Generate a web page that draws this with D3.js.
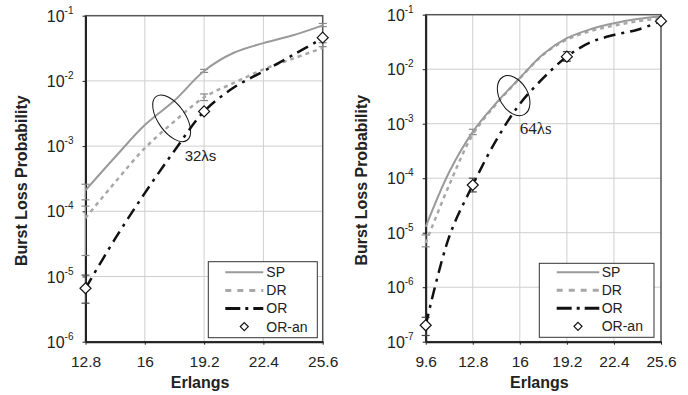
<!DOCTYPE html>
<html>
<head>
<meta charset="utf-8">
<script src="https://cdn.jsdelivr.net/npm/d3@7"></script>
<style>
  body { margin: 0; background: #fff; }
  svg { display: block; font-family: 'Liberation Sans', Arial, sans-serif; }
</style>
</head>
<body>
<svg id="chart" width="688" height="395"></svg>
<script>
const seriesNames = ['SP', 'DR', 'OR', 'OR-an'];

// 32 wavelengths (left panel)
const loads32 = [12.8, 14.4, 16, 17.6, 19.2, 20.8, 22.4, 24, 25.6];
const sp32 = [2.1e-4, 6.8e-4, 2.1e-3, 5.0e-3, 1.42e-2, 2.7e-2, 3.8e-2, 5.0e-2, 7.1e-2];
const dr32 = [7.9e-5, 2.8e-4, 9.3e-4, 2.4e-3, 5.6e-3, 9.3e-3, 1.5e-2, 2.2e-2, 3.2e-2];
const or32 = [6.6e-6, 3.8e-5, 1.9e-4, 8.5e-4, 3.4e-3, 7.9e-3, 1.4e-2, 2.5e-2, 4.5e-2];
const orAnLoads32 = [12.8, 19.2, 25.6];
const orAn32 = [6.6e-6, 3.4e-3, 4.6e-2];
// error bars: [load, low, high]
const spErr32 = [[12.8, 1.5e-4, 2.6e-4], [19.2, 1.35e-2, 1.5e-2], [25.6, 6.8e-2, 7.6e-2]];
const drErr32 = [[12.8, 2.1e-5, 1.2e-4], [19.2, 5.0e-3, 6.3e-3], [25.6, 3.35e-2, 3.85e-2]];
const orErr32 = [[12.8, 3.9e-6, 1.05e-5]];
const xTicks32 = [12.8, 16, 19.2, 22.4, 25.6];
const yExps32 = [-6, -5, -4, -3, -2, -1];

// 64 wavelengths (right panel)
const loads64 = [9.6, 11.2, 12.8, 14.4, 16, 17.6, 19.2, 20.8, 22.4, 24, 25.6];
const sp64 = [1.28e-5, 1.3e-4, 7.1e-4, 2.4e-3, 6.9e-3, 1.9e-2, 3.7e-2, 5.4e-2, 6.95e-2, 8.3e-2, 9.4e-2];
const dr64 = [6.5e-6, 7.5e-5, 6.3e-4, 2.3e-3, 6.8e-3, 1.85e-2, 3.5e-2, 5.0e-2, 6.3e-2, 7.6e-2, 8.6e-2];
const or64 = [2.0e-7, 8.5e-6, 7.5e-5, 5.0e-4, 2.3e-3, 6.9e-3, 1.7e-2, 3.1e-2, 4.25e-2, 5.3e-2, 7.6e-2];
const orAnLoads64 = [9.6, 12.8, 19.2, 25.6];
const orAn64 = [2.0e-7, 7.5e-5, 1.7e-2, 7.6e-2];
const spErr64 = [[12.8, 6.3e-4, 7.9e-4]];
const drErr64 = [[9.6, 5.5e-6, 9.1e-6]];
const orErr64 = [[9.6, 1.3e-7, 2.8e-7], [12.8, 5.6e-5, 1.0e-4], [19.2, 1.4e-2, 2.1e-2]];
const xTicks64 = [9.6, 12.8, 16, 19.2, 22.4, 25.6];
const yExps64 = [-7, -6, -5, -4, -3, -2, -1];

const svg = d3.select('#chart');

const styles = {
  SP: {stroke: '#9a9a9a', width: 2, dash: null},
  DR: {stroke: '#a8a8a8', width: 2.5, dash: '4,4'},
  OR: {stroke: '#111', width: 2.5, dash: '12,6,3,6'}
};

function diamond(g, cx, cy, r) {
  g.append('path')
    .attr('d', `M${cx},${cy - r}L${cx + r},${cy}L${cx},${cy + r}L${cx - r},${cy}Z`)
    .attr('fill', '#fff')
    .attr('stroke', '#111')
    .attr('stroke-width', 1.2);
}

function drawPanel(cfg) {
  const x = d3.scaleLinear().domain(cfg.xDomain).range([cfg.left, cfg.right]);
  const y = d3.scaleLog().domain(cfg.yDomain).range([cfg.bottom, cfg.top]);
  const g = svg.append('g');

  // grid
  g.append('g').selectAll('line')
    .data(cfg.xTicks.slice(1, -1))
    .enter().append('line')
    .attr('x1', d => x(d)).attr('x2', d => x(d))
    .attr('y1', cfg.top).attr('y2', cfg.bottom)
    .attr('stroke', '#cfcfcf').attr('stroke-width', 1);
  g.append('g').selectAll('line')
    .data(cfg.yExps.slice(1, -1))
    .enter().append('line')
    .attr('x1', cfg.left).attr('x2', cfg.right)
    .attr('y1', d => y(Math.pow(10, d))).attr('y2', d => y(Math.pow(10, d)))
    .attr('stroke', '#cfcfcf').attr('stroke-width', 1);

  // frame
  g.append('rect')
    .attr('x', cfg.left).attr('y', cfg.top)
    .attr('width', cfg.right - cfg.left).attr('height', cfg.bottom - cfg.top)
    .attr('fill', 'none').attr('stroke', '#555').attr('stroke-width', 1.5);

  // axes
  const xAxis = g.append('g')
    .attr('transform', `translate(0,${cfg.bottom})`)
    .call(d3.axisBottom(x).tickValues(cfg.xTicks).tickSize(3).tickSizeOuter(0).tickFormat(d3.format('')));
  xAxis.select('.domain').attr('stroke', '#222').attr('stroke-width', 2);
  xAxis.selectAll('.tick line').attr('stroke', '#222');
  xAxis.selectAll('.tick text')
    .attr('y', 14).attr('dy', '0.71em')
    .attr('font-size', 15.5).attr('fill', '#222')
    .attr('font-family', "'Liberation Sans', Arial, sans-serif");

  const yAxis = g.append('g')
    .attr('transform', `translate(${cfg.left},0)`)
    .call(d3.axisLeft(y).tickValues(cfg.yExps.map(e => Math.pow(10, e))).tickSize(3).tickSizeOuter(0).tickFormat(''));
  yAxis.select('.domain').attr('stroke', '#222').attr('stroke-width', 2);
  yAxis.selectAll('.tick line').attr('stroke', '#222');

  const yl = g.append('g').selectAll('text')
    .data(cfg.yExps).enter().append('text')
    .attr('x', cfg.left - 12)
    .attr('y', d => y(Math.pow(10, d)) + 6)
    .attr('text-anchor', 'end')
    .attr('fill', '#222')
    .attr('font-size', 16);
  yl.append('tspan').text('10');
  yl.append('tspan').attr('dy', -8).attr('font-size', 10).text(d => String(d));

  // axis titles
  g.append('text')
    .attr('transform', `translate(${cfg.yTitleX},${(cfg.top + cfg.bottom) / 2 + 2}) rotate(-90)`)
    .attr('text-anchor', 'middle').attr('dominant-baseline', 'central')
    .attr('font-size', 16).attr('font-weight', 'bold').attr('fill', '#222')
    .text('Burst Loss Probability');
  g.append('text')
    .attr('x', (cfg.left + cfg.right) / 2 - 4).attr('y', 388)
    .attr('text-anchor', 'middle')
    .attr('font-size', 16).attr('font-weight', 'bold').attr('fill', '#222')
    .text('Erlangs');

  // error bars
  const errGroups = [['SP', cfg.spErr], ['DR', cfg.drErr], ['OR', cfg.orErr]];
  errGroups.forEach(([name, errs]) => {
    errs.forEach(([l, lo, hi]) => {
      const col = name === 'OR' ? '#444' : '#888';
      g.append('line').attr('x1', x(l)).attr('x2', x(l)).attr('y1', y(lo)).attr('y2', y(hi))
        .attr('stroke', col).attr('stroke-width', 1);
      [lo, hi].forEach(v => {
        g.append('line').attr('x1', x(l) - 4).attr('x2', x(l) + 4).attr('y1', y(v)).attr('y2', y(v))
          .attr('stroke', col).attr('stroke-width', 1.2);
      });
    });
  });

  // series lines (smoothed like the original spreadsheet plot)
  const line = d3.line()
    .x(d => x(d[0]))
    .y(d => y(d[1]))
    .curve(d3.curveCatmullRom.alpha(0.5));
  const series = [['DR', cfg.dr], ['SP', cfg.sp], ['OR', cfg.or]];
  series.forEach(([name, vals]) => {
    const st = styles[name];
    g.append('path')
      .datum(cfg.loads.map((l, i) => [l, vals[i]]))
      .attr('fill', 'none')
      .attr('stroke', st.stroke)
      .attr('stroke-width', st.width)
      .attr('stroke-dasharray', st.dash)
      .attr('d', line);
  });

  // analytic points
  cfg.orAnLoads.forEach((l, i) => diamond(g, x(l), y(cfg.orAn[i]), 5.5));

  // annotation ellipse
  const a = cfg.note;
  g.append('ellipse')
    .attr('transform', `translate(${x(a.load)},${y(a.value)}) rotate(${a.angle})`)
    .attr('rx', a.rx).attr('ry', a.ry)
    .attr('fill', 'none').attr('stroke', '#111').attr('stroke-width', 1);
  g.append('text')
    .attr('x', x(a.load) + a.dx).attr('y', y(a.value) + a.dy)
    .attr('font-family', a.font).attr('font-size', a.size).attr('fill', '#222')
    .text(a.label);

  // legend
  const L = cfg.legend;
  const lg = g.append('g').attr('transform', `translate(${L.x},${L.y})`);
  lg.append('rect').attr('width', L.w).attr('height', L.h)
    .attr('fill', '#fff').attr('stroke', '#333').attr('stroke-width', 1);
  seriesNames.forEach((name, i) => {
    const ry = L.row0 + i * L.step;
    if (styles[name]) {
      const st = styles[name];
      lg.append('line').attr('x1', L.lx0).attr('x2', L.lx1).attr('y1', ry).attr('y2', ry)
        .attr('stroke', st.stroke).attr('stroke-width', name === 'SP' ? 2 : 3)
        .attr('stroke-dasharray', name === 'DR' ? '6,6' : name === 'OR' ? '15,5,3,5' : null);
    } else {
      diamond(lg, (L.lx0 + L.lx1) / 2, ry, 4);
    }
    lg.append('text').attr('x', L.tx).attr('y', ry + 5)
      .attr('font-size', 14).attr('fill', '#222').text(name);
  });
}

drawPanel({
  left: 85.5, right: 322.7, top: 15.7, bottom: 341.7,
  xDomain: [12.8, 25.6], yDomain: [1e-6, 1e-1],
  xTicks: xTicks32, yExps: yExps32, yTitleX: 21,
  loads: loads32, sp: sp32, dr: dr32, or: or32,
  orAnLoads: orAnLoads32, orAn: orAn32,
  spErr: spErr32, drErr: drErr32, orErr: orErr32,
  note: {load: 17.45, value: 2.67e-3, angle: 55, rx: 26.8, ry: 13.6, dx: 13, dy: 43,
         label: '32\u03bbs', font: "'Liberation Sans', Arial, sans-serif", size: 15},
  legend: {x: 208.3, y: 261.7, w: 109, h: 76, row0: 10.6, step: 18.1, lx0: 17, lx1: 55, tx: 58}
});

drawPanel({
  left: 425.7, right: 661, top: 14.7, bottom: 341.7,
  xDomain: [9.6, 25.6], yDomain: [1e-7, 1e-1],
  xTicks: xTicks64, yExps: yExps64, yTitleX: 361,
  loads: loads64, sp: sp64, dr: dr64, or: or64,
  orAnLoads: orAnLoads64, orAn: orAn64,
  spErr: spErr64, drErr: drErr64, orErr: orErr64,
  note: {load: 15.58, value: 3.27e-3, angle: 60, rx: 21.6, ry: 14.1, dx: 6, dy: 38,
         label: '64\u03bbs', font: "'Liberation Serif', 'Times New Roman', serif", size: 17},
  legend: {x: 539.3, y: 263.3, w: 114.7, h: 74, row0: 9, step: 18, lx0: 17.4, lx1: 60, tx: 62.4}
});
</script>
</body>
</html>
